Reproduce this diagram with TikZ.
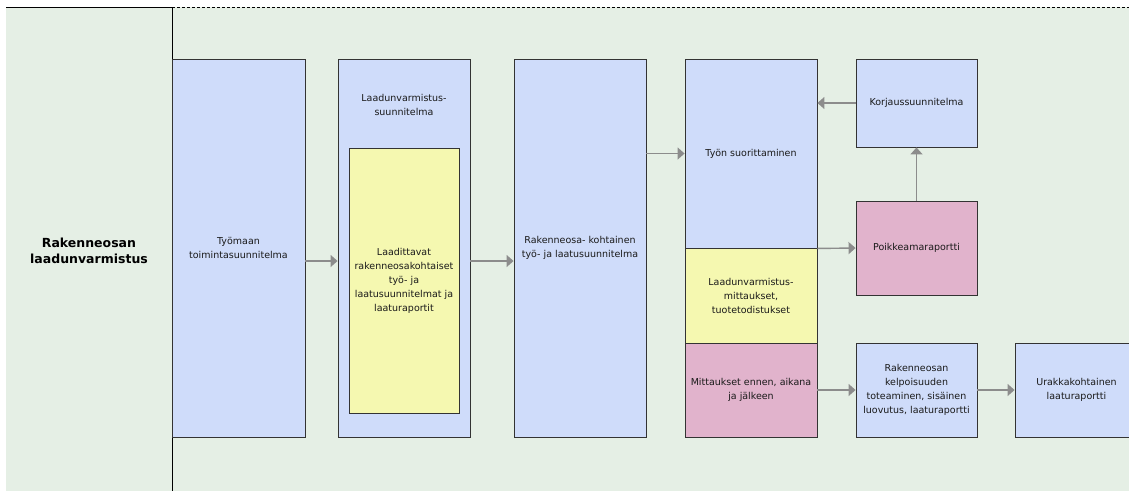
\documentclass[tikz,border=0pt]{standalone}
\usepackage{fontspec}
\setmainfont{DejaVu Sans}
\usetikzlibrary{arrows.meta}
\definecolor{bggreen}{HTML}{E5EFE5}
\definecolor{boxblue}{HTML}{CFDCFA}
\definecolor{boxyellow}{HTML}{F5F8B0}
\definecolor{boxpink}{HTML}{E1B3CC}
\definecolor{edgegray}{HTML}{333333}
\definecolor{arrgray}{HTML}{8C8C8C}
\definecolor{txtgray}{HTML}{1A1A1A}
\tikzset{
  basebox/.style={draw=edgegray, line width=0.9pt, inner sep=2pt, align=center,
    text=txtgray, font=\fontsize{9.5}{14}\selectfont},
  bluebox/.style={basebox, fill=boxblue},
  yellowbox/.style={basebox, fill=boxyellow},
  pinkbox/.style={basebox, fill=boxpink},
  plaintext/.style={align=center, text=txtgray, inner sep=0pt, font=\fontsize{9.5}{14}\selectfont},
  arr/.style={draw=arrgray, line width=1.4pt, -{Triangle[length=7pt,width=12pt]}, shorten >=0pt}
}
\begin{document}
\begin{tikzpicture}[x=1pt,y=-1pt]
\useasboundingbox (0,0) rectangle (1129,491);
\clip (0,0) rectangle (1129,491);
\fill[bggreen] (6,7) rectangle (1129,491);
\draw[line width=0.9pt, black] (6,7) -- (172,7);
\draw[line width=0.9pt, black, dash pattern=on 3pt off 2pt] (172,7) -- (1129,7);
\draw[line width=0.9pt, black] (172,7) -- (172,491);
\node[font=\bfseries\fontsize{12.5}{16}\selectfont, align=center, text=black] (head) at (89,251) {Rakenneosan\\laadunvarmistus};
% column 1
\node[bluebox, minimum width=133pt, minimum height=378pt] (tyomaa) at (238.5,248) {Työmaan\\toimintasuunnitelma};
% column 2
\node[bluebox, minimum width=132pt, minimum height=378pt] (lv) at (404,248) {};
\node[plaintext] (lvtitle) at (404,104.5) {Laadunvarmistus-\\suunnitelma};
\node[yellowbox, minimum width=110pt, minimum height=265pt] (laad) at (404,280.5) {Laadittavat\\rakenneosakohtaiset\\työ- ja\\laatusuunnitelmat ja\\laaturaportit};
% column 3
\node[bluebox, minimum width=132pt, minimum height=378pt] (rak) at (580,248) {Rakenneosa- kohtainen\\työ- ja laatusuunnitelma};
% column 4
\node[bluebox, minimum width=132pt, minimum height=189pt] (tyon) at (751,153.5) {Työn suorittaminen};
\node[yellowbox, minimum width=132pt, minimum height=95pt] (lvm) at (751,295.5) {Laadunvarmistus-\\mittaukset,\\tuotetodistukset};
\node[pinkbox, minimum width=132pt, minimum height=94pt] (mitt) at (751,390) {Mittaukset ennen, aikana\\ja jälkeen};
% column 5
\node[bluebox, minimum width=121pt, minimum height=88pt] (korj) at (916.5,103) {Korjaussuunnitelma};
\node[pinkbox, minimum width=121pt, minimum height=94pt] (poik) at (916.5,248) {Poikkeamaraportti};
\node[bluebox, minimum width=121pt, minimum height=94pt] (kelp) at (916.5,390) {Rakenneosan\\kelpoisuuden\\toteaminen, sisäinen\\luovutus, laaturaportti};
% column 6
\node[bluebox, minimum width=123pt, minimum height=94pt] (urak) at (1076.5,390) {Urakkakohtainen\\laaturaportti};
% connectors
\draw[arr] ([yshift=-13pt]tyomaa.east) -- ([yshift=-13pt]lv.west);
\draw[arr] ([yshift=-13pt]lv.east) -- ([yshift=-13pt]rak.west);
\draw[arr] (rak.east |- tyon.west) -- (tyon.west);
\draw[arr] (korj.west) -- (korj.west -| tyon.east);
\draw[arr] (poik.north) -- (korj.south);
\draw[arr] (tyon.south east) -- (poik.west);
\draw[arr] (mitt.east) -- (kelp.west);
\draw[arr] (kelp.east) -- (urak.west);
\end{tikzpicture}
\end{document}
